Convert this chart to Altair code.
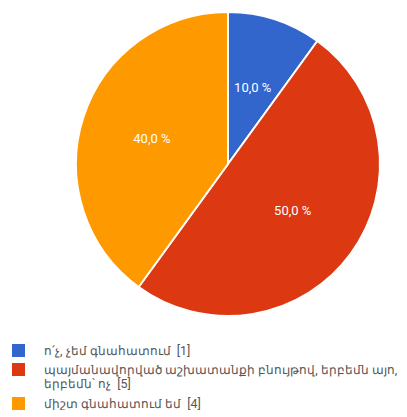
import altair as alt
import pandas as pd

categories = [
    "ո՛չ, չեմ գնահատում \u00a0[1]",
    "պայմանավորված աշխատանքի բնույթով, երբեմն այո,\nերբեմն՝ ոչ \u00a0[5]",
    "միշտ գնահատում եմ \u00a0[4]",
]
values = [10.0, 50.0, 40.0]
colors = ["#3366CC", "#DC3912", "#FF9900"]

df = pd.DataFrame({
    "category": categories,
    "value": values,
    "order": list(range(len(categories))),
    "label": [f"{v:.1f}".replace(".", ",") + " %" for v in values],
})

base = alt.Chart(df).encode(
    theta=alt.Theta("value:Q", stack=True),
    order=alt.Order("order:Q"),
    x=alt.value(220),
    y=alt.value(151),
)

arcs = base.mark_arc(outerRadius=152, stroke="white", strokeWidth=2).encode(
    color=alt.Color(
        "category:N",
        scale=alt.Scale(domain=categories, range=colors),
        sort=categories,
        legend=alt.Legend(
            title=None,
            orient="none",
            legendX=4,
            legendY=331,
            symbolType="square",
            symbolSize=169,
            symbolStrokeWidth=0,
            labelFont="Roboto",
            labelFontSize=12.4,
            labelColor="#555555",
            labelLimit=400,
            labelOffset=19,
            rowPadding=6,
            padding=0,
            labelExpr="split(datum.label, '\\n')",
        ),
    )
)

texts = base.mark_text(radius=80, font="Roboto", fontSize=13, color="white").encode(
    text="label:N"
)

chart = (arcs + texts).properties(width=391, height=320, padding=0).configure_view(stroke=None)

chart.save("out.html", embed_options={"renderer": "svg", "actions": False})
